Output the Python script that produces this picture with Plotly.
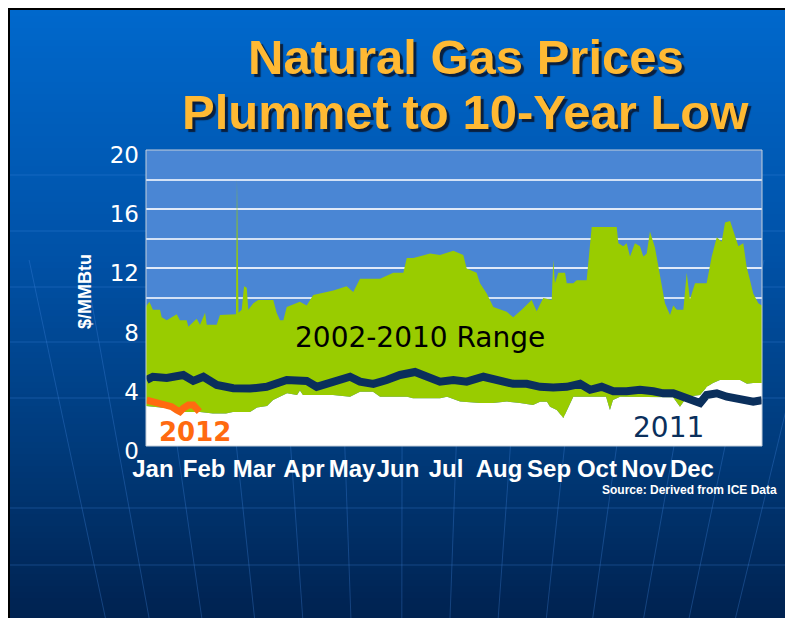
import plotly.graph_objects as go

# ---------------- data ----------------
months = ["Jan", "Feb", "Mar", "Apr", "May", "Jun", "Jul", "Aug", "Sep", "Oct", "Nov", "Dec"]
month_label_day = [4.1, 34.4, 64.0, 93.6, 122.1, 149.3, 177.8, 209.2, 238.8, 267.2, 295.1, 323.5]
y_ticks = [0, 4, 8, 12, 16, 20]

# 2002-2010 range: upper bound (day of year, $/MMBtu)
upper_day = [0.0, 0.4, 2.0, 4.1, 8.3, 9.3, 12.3, 18.2, 20.1, 24.1, 25.1, 30.0, 32.0, 35.0, 36.0,
             41.9, 43.8, 51.7, 53.3, 53.9, 54.8, 56.7, 58.1, 59.7, 60.6, 63.6, 66.5, 75.4, 77.4,
             79.4, 81.4, 83.4, 91.2, 95.2, 99.1, 111.0, 118.9, 122.8, 126.8, 138.7, 146.5, 152.5,
             154.5, 158.4, 168.3, 174.2, 182.1, 188.0, 190.0, 195.9, 197.9, 201.9, 205.8, 213.7,
             217.6, 222.6, 228.5, 231.5, 235.4, 240.4, 241.3, 242.3, 244.3, 248.3, 249.3, 253.2,
             255.2, 261.1, 262.1, 264.1, 278.9, 279.9, 282.8, 284.8, 286.8, 289.7, 292.7, 294.7,
             296.7, 298.6, 301.6, 303.5, 307.5, 310.5, 312.4, 314.5, 318.4, 320.4, 322.3, 325.3,
             332.2, 335.2, 338.2, 341.1, 343.1, 346.1, 348.0, 351.0, 353.9, 355.9, 357.9, 359.8,
             362.8, 365.0]
upper_val = [9.4, 9.5, 9.75, 9.2, 9.2, 8.7, 8.5, 8.9, 8.5, 8.5, 8.06, 8.6, 8.2, 9.0, 8.2,
             8.2, 8.85, 8.85, 8.9, 18.0, 9.0, 9.2, 10.8, 10.7, 9.2, 9.65, 9.86, 9.86, 9.0,
             8.5, 8.5, 9.4, 9.75, 9.5, 10.2, 10.5, 10.8, 10.4, 11.3, 11.3, 11.7, 11.7,
             12.7, 12.7, 13.0, 12.9, 13.2, 12.9, 12.0, 11.7, 11.0, 10.3, 9.4, 9.07,
             8.7, 9.2, 9.86, 9.1, 10.0, 9.86, 12.6, 11.0, 11.7, 11.7, 11.0, 11.0,
             11.2, 11.2, 12.6, 14.8, 14.8, 13.7, 13.5, 13.7, 12.8, 13.7, 13.5, 12.8,
             13.0, 14.5, 13.4, 12.1, 9.65, 8.85, 9.5, 9.2, 9.2, 11.7, 9.9, 11.0,
             11.0, 12.8, 14.1, 13.8, 15.1, 15.2, 14.5, 13.5, 13.7, 12.1, 11.2, 10.3,
             9.65, 9.5]

# 2002-2010 range: lower bound
lower_day = [0.0, 8.3, 17.2, 20.1, 32.0, 39.7, 47.4, 51.5, 61.6, 65.8, 71.7, 75.3, 79.4, 83.6,
             89.5, 91.2, 93.0, 99.0, 110.8, 120.9, 126.8, 134.5, 138.7, 154.7, 158.2, 174.2,
             178.4, 186.1, 197.9, 205.6, 213.9, 221.6, 229.3, 233.5, 237.6, 239.4, 243.4,
             247.3, 250.2, 253.2, 272.6, 274.9, 276.7, 280.9, 312.3, 316.4, 320.6, 328.3,
             332.4, 336.0, 340.1, 352.0, 356.1, 359.7, 365.0]
lower_val = [2.7, 2.6, 2.5, 2.3, 2.3, 2.2, 2.2, 2.3, 2.3, 2.6, 2.7, 3.1, 3.33, 3.56,
             3.45, 3.75, 3.45, 3.45, 3.45, 3.33, 3.67, 3.67, 3.33, 3.33, 3.22, 3.22,
             3.33, 3.0, 2.9, 2.9, 3.0, 2.9, 2.77, 2.99, 2.99, 2.65, 2.43,
             1.9, 2.65, 3.33, 3.33, 2.43, 3.1, 3.33, 3.3, 2.65, 3.33, 3.45,
             4.0, 4.26, 4.46, 4.46, 4.2, 4.26, 4.26]

# 2011 prices
y2011_day = [0.4, 4.1, 12.3, 22.1, 28.0, 34.0, 41.9, 51.7, 61.6, 71.5, 83.4, 95.2, 101.1, 111.0,
             120.9, 126.8, 134.7, 142.6, 150.5, 159.4, 166.3, 174.2, 182.1, 190.0, 199.9, 207.8,
             217.6, 225.6, 233.5, 241.3, 249.3, 257.2, 263.1, 270.0, 276.9, 284.8, 292.7, 300.6,
             306.5, 312.4, 320.4, 328.3, 332.2, 338.2, 344.2, 352.0, 359.8, 365.0]
y2011_val = [4.46, 4.68, 4.6, 4.8, 4.4, 4.68, 4.12, 3.9, 3.88, 4.0, 4.46, 4.4, 4.0, 4.4,
             4.68, 4.35, 4.2, 4.46, 4.8, 5.0, 4.68, 4.35, 4.45, 4.35, 4.68, 4.45,
             4.2, 4.2, 4.0, 3.95, 4.0, 4.2, 3.8, 4.0, 3.7, 3.7, 3.8, 3.7,
             3.56, 3.56, 3.2, 2.9, 3.45, 3.56, 3.33, 3.1, 3.0, 3.1]

# 2012 prices
y2012_day = [0.4, 6.3, 11.3, 15.2, 18.2, 20.1, 22.1, 25.1, 28.0, 30.0, 31.6]
y2012_val = [3.1, 2.92, 2.8, 2.66, 2.43, 2.32, 2.55, 2.77, 2.77, 2.55, 2.32]

# ---------------- layout geometry ----------------
# the page body adds an 8px offset; positions below are given in page pixels
OFF = 8
W, H = 785, 610
ML, MR, MT, MB = 138, 31, 142, 172
PW, PH = W - ML - MR, H - MT - MB


def fx(p):
    return (p - OFF - ML) / PW


def fy(p):
    return (H - MB - (p - OFF)) / PH


GREEN = "#99cc00"
NAVY = "#0a2f5c"
ORANGE = "#ff6a10"
TITLE = "#ffb933"
SANS = "Liberation Sans, Arial, sans-serif"

fig = go.Figure()

fig.add_trace(go.Scatter(x=lower_day, y=lower_val, mode="lines", line=dict(width=0, color="white"),
                         fill="tozeroy", fillcolor="white", hoverinfo="skip", showlegend=False))
fig.add_trace(go.Scatter(x=upper_day, y=upper_val, mode="lines", line=dict(width=0, color=GREEN),
                         fill="tonexty", fillcolor=GREEN, hoverinfo="skip", showlegend=False))
fig.add_trace(go.Scatter(x=y2011_day, y=y2011_val, mode="lines",
                         line=dict(width=8, color=NAVY), showlegend=False))
fig.add_trace(go.Scatter(x=y2012_day, y=y2012_val, mode="lines",
                         line=dict(width=7, color=ORANGE), showlegend=False))

shapes = []
# black frame of the slide
shapes.append(dict(type="rect", xref="paper", yref="paper", x0=fx(8), x1=fx(800), y0=fy(8), y1=fy(630),
                   fillcolor="black", line=dict(width=0), layer="below"))
# vertical gradient background
stops = [(10, (0, 104, 204)), (250, (0, 82, 168)), (450, (0, 58, 122)), (618, (0, 34, 80))]
step = 6
y = 10
while y < 618:
    yc = y + step / 2
    col = stops[-1][1]
    for (a, ca), (b, cb) in zip(stops[:-1], stops[1:]):
        if a <= yc <= b:
            t = (yc - a) / (b - a)
            col = tuple(int(round(ca[k] + (cb[k] - ca[k]) * t)) for k in range(3))
            break
    shapes.append(dict(type="rect", xref="paper", yref="paper", x0=fx(10), x1=fx(800),
                       y0=fy(min(y + step + 1, 630)), y1=fy(y), fillcolor="rgb(%d,%d,%d)" % col,
                       line=dict(width=0), layer="below"))
    y += step

# faint globe lines
GLOBE = "rgba(70,140,230,0.30)"
for yy in [175, 231, 287, 342, 398, 508, 565]:
    shapes.append(dict(type="line", xref="paper", yref="paper", x0=fx(10), x1=fx(800), y0=fy(yy), y1=fy(yy),
                       line=dict(color=GLOBE, width=1), layer="below"))
pole_x, pole_y, ref_y = 400, 2000, 480
for x0 in [76, 124, 182, 240, 293, 346, 402, 455, 508, 561, 612, 668, 718, 769]:
    def xat(yy):
        return x0 + (pole_x - x0) * (yy - ref_y) / (pole_y - ref_y)
    shapes.append(dict(type="line", xref="paper", yref="paper", x0=fx(max(10, xat(260))), y0=fy(260),
                       x1=fx(xat(620)), y1=fy(620), line=dict(color=GLOBE, width=1), layer="below"))

# plot-area background
shapes.append(dict(type="rect", xref="paper", yref="paper", x0=0, x1=1, y0=0, y1=1,
                   fillcolor="#4a86d4", line=dict(width=0), layer="below"))
# plot-area frame
shapes.append(dict(type="rect", xref="paper", yref="paper", x0=0, x1=1, y0=0, y1=1,
                   fillcolor="rgba(0,0,0,0)", line=dict(width=1, color="#c4cfdb"), layer="above"))

annotations = []
# title with drop shadow
for txt, cy in [("Natural Gas Prices", 57), ("Plummet to 10-Year Low", 112)]:
    annotations.append(dict(text="<b>%s</b>" % txt, xref="paper", yref="paper",
                            x=fx(466), y=fy(cy), xanchor="center", yanchor="middle",
                            showarrow=False,
                            font=dict(family=SANS, size=49, color=TITLE,
                                      shadow="3px 3px 1px rgba(10,20,40,0.85)")))

annotations.append(dict(text="2002-2010 Range", xref="x", yref="y", x=162.3, y=7.3,
                        showarrow=False, font=dict(family="DejaVu Sans", size=28, color="black")))
annotations.append(dict(text="2011", xref="x", yref="y", x=309.3, y=1.25,
                        showarrow=False, font=dict(family="DejaVu Sans", size=28, color=NAVY)))
annotations.append(dict(text="<b>2012</b>", xref="x", yref="y", x=29.0, y=0.95,
                        showarrow=False, font=dict(family="DejaVu Sans", size=26, color=ORANGE)))
annotations.append(dict(text="<b>$/MMBtu</b>", xref="paper", yref="paper", x=fx(73), y=fy(292),
                        textangle=-90, showarrow=False,
                        font=dict(family=SANS, size=18, color="white")))
annotations.append(dict(text="<b>Source: Derived from ICE Data</b>", xref="paper", yref="paper",
                        x=fx(779), y=fy(490), xanchor="right", yanchor="middle", showarrow=False,
                        font=dict(family=SANS, size=12, color="white")))

fig.update_layout(
    width=W, height=H,
    margin=dict(l=ML, r=MR, t=MT, b=MB, pad=0),
    paper_bgcolor="white", plot_bgcolor="rgba(0,0,0,0)",
    shapes=shapes, annotations=annotations, showlegend=False,
    xaxis=dict(range=[0, 365], tickmode="array", tickvals=month_label_day, ticktext=months,
               showgrid=False, zeroline=False, showline=False, ticks="", tickangle=0,
               automargin=False,
               tickfont=dict(family=SANS, size=24, color="white", weight="bold"),
               ticklabelstandoff=6),
    yaxis=dict(range=[0, 20], tickmode="array", tickvals=y_ticks, ticktext=[str(v) for v in y_ticks],
               showgrid=True, gridcolor="rgba(225,235,250,0.9)", gridwidth=1.5,
               minor=dict(dtick=2, showgrid=True, gridcolor="rgba(225,235,250,0.9)", gridwidth=1.5),
               zeroline=False, showline=False, ticks="", automargin=False,
               tickfont=dict(family="DejaVu Sans", size=23, color="white"),
               ticklabelshift=5, ticklabelstandoff=6),
)

fig.write_html("out.html")
